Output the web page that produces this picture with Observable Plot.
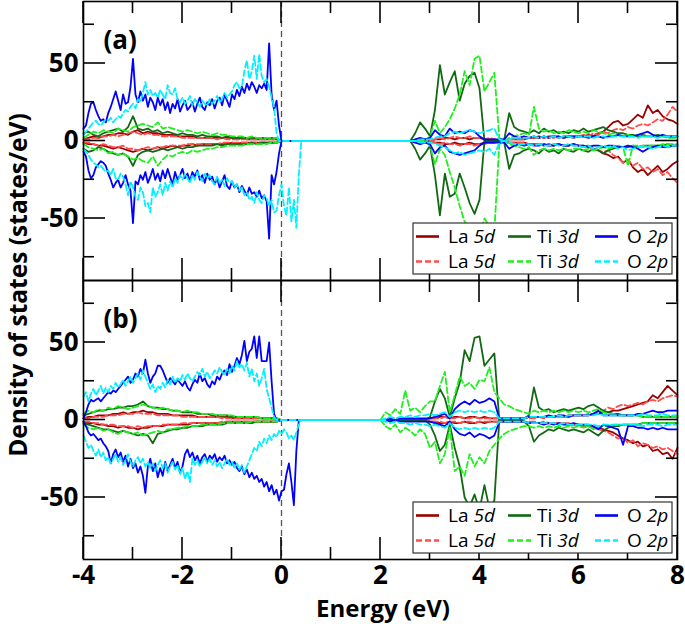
<!DOCTYPE html>
<html><head><meta charset="utf-8">
<script src="https://cdn.jsdelivr.net/npm/d3@7"></script>
<script src="https://cdn.jsdelivr.net/npm/@observablehq/plot@0.6"></script>
<style>body{margin:0;background:#fff;} svg{display:block;}</style>
</head><body><div id="chart"></div>
<script>
// ---- sample energies (eV) ----
const EV05 = d3.range(0, 89).map(i => +(-4 + 0.05 * i).toFixed(2)); // -4.00 .. 0.40
const EV10 = d3.range(0, 41).map(i => +(-4 + 0.1 * i).toFixed(1));  // -4.0 .. 0.0
const EC10 = d3.range(0, 61).map(i => +(2 + 0.1 * i).toFixed(1));   //  2.0 .. 8.0

const xTickValues = [-4, -2, 0, 2, 4, 6, 8];
const yTickValues = [-50, 0, 50];
const panels = ["a", "b"];

// ===== Panel (a) =====
// valence, La / Ti on EV10
const a_La_s_up_v = [1,2,3,2,3,4,4,5,5,4, 6,7,5,6,5,5,4,4,4,3, 3,3,3,2,2,2,2,2,2,2, 2,1,2,1,1,1,1,1,1,1, 0];
const a_La_s_dn_v = [-1,-2,-2,-3,-3,-4,-5,-4,-5,-6, -7,-6,-5,-6,-5,-4,-5,-4,-3,-4, -3,-3,-2,-3,-2,-2,-2,-2,-2,-2, -1,-2,-1,-1,-1,-1,-1,-1,-1,-1, 0];
const a_La_d_up_v = [1,1,2,2,3,3,4,3,4,5, 6,5,4,5,4,4,3,3,3,3, 2,2,2,2,2,2,2,1,2,1, 1,1,1,1,1,1,1,1,1,1, 0];
const a_La_d_dn_v = [-1,-1,-2,-3,-2,-3,-4,-4,-3,-5, -5,-6,-5,-4,-5,-4,-4,-3,-3,-3, -3,-2,-2,-2,-2,-2,-2,-2,-1,-1, -1,-1,-1,-1,-1,-1,-1,-1,-1,-1, 0];
const a_Ti_s_up_v = [5,6,4,3,5,6,7,8,6,9, 16,8,7,8,6,7,5,6,5,4, 5,4,4,3,4,3,3,3,2,3, 2,2,2,2,2,2,2,2,2,2, 0];
const a_Ti_s_dn_v = [-5,-7,-6,-4,-5,-7,-8,-9,-8,-10, -16,-9,-7,-6,-7,-6,-5,-6,-5,-4, -5,-4,-4,-3,-3,-3,-3,-2,-3,-2, -2,-2,-2,-2,-1,-2,-1,-1,-1,-1, 0];
const a_Ti_d_up_v = [2,4,6,5,7,6,5,8,7,6, 9,10,11,10,9,12,8,9,8,7, 6,7,6,5,6,5,4,5,4,4, 3,3,3,2,3,2,2,2,2,2, 0];
const a_Ti_d_dn_v = [-2,-4,-5,-6,-5,-8,-7,-9,-8,-10, -12,-11,-13,-14,-10,-16,-12,-9,-10,-8, -7,-8,-6,-7,-6,-5,-5,-4,-4,-3, -3,-3,-3,-2,-2,-2,-2,-2,-1,-1, 0];
// valence, O on EV05
const a_O_s_up_v = [8,10,18,24,25,20,16,13,14,12, 18,22,27,32,26,20,30,24,25,35, 53,30,25,32,26,30,22,28,25,20, 28,23,27,20,25,18,24,21,27,19, 23,26,20,22,25,19,24,28,22,20, 25,23,27,21,26,28,23,30,26,22, 30,27,33,29,35,31,37,33,38,35, 31,36,34,37,33,63,30,20,26,10, 0,0,0,0,0,0,0,0,0];
const a_O_s_dn_v = [-7,-10,-19,-24,-22,-17,-15,-13,-14,-16, -21,-25,-30,-27,-25,-30,-27,-22,-28,-32, -53,-26,-28,-22,-25,-20,-27,-23,-18,-25, -21,-26,-19,-24,-18,-23,-28,-20,-25,-22, -18,-24,-21,-26,-20,-23,-19,-25,-22,-27, -21,-25,-23,-28,-24,-30,-26,-22,-29,-31, -26,-30,-28,-33,-29,-32,-35,-30,-34,-33, -36,-32,-37,-35,-39,-63,-22,-28,-20,-8, 0,0,0,0,0,0,0,0,0];
const a_O_d_up_v = [4,6,8,10,12,13,11,10,12,14, 13,15,12,14,16,15,18,20,19,22, 24,21,27,25,31,38,30,33,29,31, 28,33,30,27,36,31,30,34,27,25, 28,24,26,29,23,27,25,22,26,24, 23,27,24,26,29,25,27,31,28,30, 32,36,38,34,35,45,52,40,45,55, 40,56,42,38,40,35,28,22,5,0, 0,0,0,0,0,0,0,0,0];
const a_O_d_dn_v = [-5,-7,-9,-12,-14,-15,-17,-16,-18,-20, -19,-22,-18,-24,-25,-21,-23,-28,-35,-26, -30,-36,-38,-30,-33,-42,-40,-46,-30,-36, -33,-28,-35,-27,-32,-26,-30,-24,-27,-22, -25,-21,-24,-27,-22,-25,-20,-23,-26,-21, -24,-22,-26,-28,-23,-27,-25,-29,-24,-27, -26,-30,-28,-32,-30,-35,-33,-38,-36,-40, -33,-38,-40,-35,-37,-42,-38,-46,-45,-35, -28,-42,-48,-30,-52,-38,-56,-22,0];
// conduction, EC10
const a_La_s_up_c = [0,0,0,0,0,0,0,0,0,0, 0,1,1,2,2,1,2,2,1,2, 2,1,1,1,0,0,1,1,1,1, 2,2,3,2,3,3,2,3,3,2, 3,3,4,3,5,6,9,12,13,10, 11,14,17,15,23,18,20,16,14,13, 11];
const a_La_s_dn_c = [0,0,0,0,0,0,0,0,0,0, 0,-1,-1,-2,-2,-1,-2,-2,-1,-2, -2,-1,-1,-1,0,0,-1,-1,-1,-1, -2,-2,-2,-3,-2,-3,-2,-3,-3,-2, -3,-4,-3,-5,-6,-8,-9,-11,-10,-14, -12,-17,-20,-18,-22,-19,-16,-20,-18,-15, -13];
const a_La_d_up_c = [0,0,0,0,0,0,0,0,0,0, 0,1,2,1,2,3,2,2,3,2, 2,1,2,1,0,0,1,1,1,1, 2,2,2,3,2,2,3,2,3,3, 3,4,3,5,4,6,5,7,8,7, 9,8,10,11,10,12,14,13,17,22, 19];
const a_La_d_dn_c = [0,0,0,0,0,0,0,0,0,0, 0,-1,-2,-1,-2,-2,-3,-2,-2,-3, -2,-2,-1,-1,0,0,-1,-1,-1,-1, -2,-2,-2,-2,-3,-2,-2,-3,-2,-3, -3,-3,-4,-5,-6,-7,-6,-9,-11,-14, -12,-16,-14,-18,-17,-20,-18,-22,-20,-24, -27];
const a_Ti_s_up_c = [0,0,0,0,0,0,0,5,12,8, 3,20,49,30,38,45,26,37,42,44, 34,0,0,0,0,1,18,9,7,6, 5,7,5,8,6,7,5,6,5,7, 6,8,6,7,8,9,7,6,5,5, 4,4,3,4,3,3,4,3,3,3, 3];
const a_Ti_s_dn_c = [0,0,0,0,0,0,0,-5,-12,-8, -3,-22,-48,-21,-36,-34,-21,-30,-40,-47, -38,0,0,0,0,-1,-18,-9,-8,-6, -5,-6,-8,-5,-7,-6,-8,-5,-6,-7, -5,-6,-7,-5,-6,-8,-6,-5,-4,-4, -4,-3,-4,-3,-3,-3,-3,-3,-2,-3, -3];
const a_Ti_d_up_c = [0,0,0,0,0,0,0,0,0,0, 3,13,5,9,14,21,30,45,36,53, 55,32,38,44,2,0,2,3,4,5, 4,22,8,6,7,5,6,5,7,6, 5,6,5,7,6,5,4,5,4,3, 4,3,4,3,3,4,3,3,2,2, 2];
const a_Ti_d_dn_c = [0,0,0,0,0,0,0,0,0,0, -3,-15,-5,-9,-20,-30,-42,-52,-56,-58, -60,-50,-55,-58,-2,0,-2,-3,-4,-5, -4,-9,-6,-5,-6,-5,-6,-5,-6,-5, -5,-6,-5,-6,-5,-4,-5,-4,-3,-4, -16,-3,-3,-4,-3,-3,-3,-2,-2,-2, -2];
const a_O_s_up_c = [0,0,0,0,0,0,0,1,2,1, 2,7,4,3,8,5,6,5,7,6, 3,1,1,1,1,1,5,3,2,3, 2,3,2,3,2,3,3,2,3,3, 3,3,2,3,3,2,3,3,4,3, 3,3,4,5,6,4,3,4,3,3, 3];
const a_O_s_dn_c = [0,0,0,0,0,0,0,-1,-2,-1, -2,-8,-4,-3,-7,-8,-9,-8,-7,-6, -3,-1,-1,-1,-1,-1,-5,-3,-2,-3, -2,-3,-3,-2,-3,-3,-2,-3,-3,-2, -3,-3,-4,-3,-3,-4,-3,-3,-4,-4, -3,-4,-5,-7,-5,-4,-3,-4,-4,-3, -3];
const a_O_d_up_c = [0,0,0,0,0,0,0,0,1,1, 1,2,3,3,5,6,5,6,7,6, 5,6,7,8,1,0,1,2,2,2, 2,3,2,3,2,3,2,3,3,2, 3,3,3,2,3,3,2,3,3,3, 3,3,2,3,3,3,2,3,3,3, 3];
const a_O_d_dn_c = [0,0,0,0,0,0,0,0,-1,-1, -1,-2,-3,-4,-6,-8,-7,-9,-8,-7, -6,-7,-5,-9,-1,0,-1,-2,-2,-2, -2,-3,-2,-3,-3,-2,-3,-3,-2,-3, -3,-4,-3,-5,-4,-3,-4,-3,-5,-4, -6,-5,-4,-3,-4,-5,-4,-3,-4,-3, -3];

// ===== Panel (b) =====
const b_La_s_up_v = [1,2,2,3,3,3,4,4,5,4, 5,5,6,5,5,4,4,4,3,3, 3,3,3,2,2,2,2,2,2,2, 1,1,1,1,1,1,1,1,1,1, 0];
const b_La_s_dn_v = [-1,-2,-2,-3,-3,-4,-4,-5,-4,-5, -5,-6,-5,-5,-4,-4,-4,-3,-3,-3, -3,-3,-2,-2,-2,-2,-2,-2,-2,-1, -1,-1,-1,-1,-1,-1,-1,-1,-1,-1, 0];
const b_La_d_up_v = [1,1,2,2,2,3,3,3,4,4, 4,5,4,4,4,3,3,3,3,3, 2,2,2,2,2,2,2,2,1,1, 1,1,1,1,1,1,1,1,1,1, 0];
const b_La_d_dn_v = [-1,-1,-2,-2,-3,-3,-3,-4,-4,-4, -5,-4,-5,-4,-4,-4,-3,-3,-3,-3, -2,-2,-2,-2,-2,-2,-2,-2,-1,-1, -1,-1,-1,-1,-1,-1,-1,-1,-1,-1, 0];
const b_Ti_s_up_v = [3,4,5,6,6,7,7,8,8,9, 9,10,12,9,8,8,7,7,6,6, 5,5,5,4,4,4,3,3,3,3, 2,2,2,2,2,2,1,1,1,1, 0];
const b_Ti_s_dn_v = [-2,-3,-4,-5,-6,-6,-7,-8,-7,-8, -9,-10,-9,-10,-15,-9,-8,-7,-6,-6, -5,-5,-4,-4,-4,-3,-3,-3,-3,-2, -2,-2,-2,-2,-2,-1,-1,-1,-1,-1, 0];
const b_Ti_d_up_v = [4,6,5,7,6,8,7,9,8,7, 8,9,10,9,8,7,8,7,6,6, 5,6,5,5,4,4,4,3,3,3, 3,2,2,2,2,2,1,1,1,1, 0];
const b_Ti_d_dn_v = [-3,-5,-6,-5,-7,-6,-8,-9,-7,-8, -9,-8,-10,-9,-8,-7,-8,-6,-6,-5, -5,-4,-4,-4,-3,-3,-3,-3,-2,-2, -2,-2,-2,-2,-1,-1,-1,-1,-1,-1, 0];
const b_O_s_up_v = [1,5,10,13,12,13,14,12,14,16, 18,17,19,18,20,22,24,26,28,24, 26,30,28,33,30,39,30,24,28,30, 35,35,32,28,24,27,25,23,26,24, 22,25,21,19,23,26,24,30,25,27, 23,21,25,23,28,26,30,32,29,36, 31,35,40,36,42,51,38,44,46,54, 40,54,38,38,38,50,25,4,0,0, 0,0,0,0,0,0,0,0,0];
const b_O_s_dn_v = [-1,-4,-8,-10,-9,-11,-13,-12,-15,-17, -20,-28,-22,-19,-24,-21,-27,-23,-30,-25, -31,-28,-34,-30,-36,-47,-30,-25,-33,-28, -37,-31,-36,-27,-33,-29,-25,-31,-27,-34, -30,-22,-19,-24,-21,-26,-23,-28,-24,-22, -27,-23,-25,-22,-27,-24,-26,-23,-28,-26, -29,-27,-31,-33,-30,-35,-32,-37,-34,-38, -36,-40,-38,-43,-40,-46,-42,-48,-45,-52, -46,-45,-35,-28,-40,-55,-20,0,0];
const b_O_d_up_v = [15,18,12,17,20,16,19,22,17,21, 18,22,20,24,21,23,26,22,25,28, 24,27,30,26,32,28,24,20,23,18, 22,20,24,21,26,23,28,24,27,25, 29,26,30,27,25,28,31,29,33,28, 31,27,29,32,30,34,31,29,33,30, 35,32,38,34,36,32,37,28,33,25, 30,22,27,33,20,14,8,2,0,0, 0,0,0,0,0,0,0,0,0];
const b_O_d_dn_v = [-10,-14,-18,-16,-20,-23,-19,-24,-21,-26, -24,-28,-25,-22,-27,-24,-29,-26,-22,-27, -30,-26,-24,-28,-25,-30,-27,-31,-28,-33, -29,-26,-31,-28,-34,-30,-27,-32,-29,-35, -31,-38,-33,-40,-25,-29,-26,-30,-27,-24, -28,-25,-29,-26,-30,-27,-31,-28,-25,-29, -27,-31,-28,-32,-29,-34,-30,-26,-22,-18, -20,-14,-17,-12,-15,-10,-13,-9,-11,-7, -9,-6,-8,-12,-10,-13,-8,-3,0];
const b_La_s_up_c = [0,0,0,0,0,0,0,0,0,0, 1,1,2,2,1,2,2,1,2,2, 1,2,1,1,1,1,1,1,1,1, 2,2,2,2,2,2,3,2,3,3, 3,3,3,4,4,5,5,6,6,7, 8,9,10,11,12,16,14,18,22,19, 16];
const b_La_s_dn_c = [0,0,0,0,0,0,0,0,0,0, -1,-1,-2,-2,-1,-2,-2,-1,-2,-2, -1,-2,-1,-1,-1,-1,-1,-1,-1,-1, -2,-2,-2,-2,-2,-2,-3,-2,-3,-3, -3,-4,-4,-5,-5,-6,-7,-8,-10,-12, -13,-15,-14,-17,-16,-20,-19,-22,-21,-25, -18];
const b_La_d_up_c = [0,0,0,0,0,0,0,0,0,0, 1,1,1,2,1,1,2,1,1,2, 1,1,1,1,1,1,1,1,1,1, 1,1,2,1,2,2,2,2,2,3, 3,3,4,4,5,6,8,7,9,10, 9,10,11,10,12,13,12,14,15,16, 15];
const b_La_d_dn_c = [0,0,0,0,0,0,0,0,0,0, -1,-1,-1,-2,-1,-1,-2,-1,-1,-2, -1,-1,-1,-1,-1,-1,-1,-1,-1,-1, -1,-1,-2,-1,-2,-2,-2,-2,-2,-3, -3,-4,-4,-5,-6,-7,-8,-10,-12,-11, -15,-13,-17,-15,-16,-18,-17,-19,-18,-20, -22];
const b_Ti_s_up_c = [0,0,0,0,0,0,0,0,0,0, 2,12,20,14,2,14,24,45,38,53, 54,35,39,43,0,0,0,0,0,1, 3,21,8,6,7,5,6,7,6,7, 8,7,9,10,8,6,5,4,4,3, 3,3,3,2,2,2,2,2,2,2, 2];
const b_Ti_s_dn_c = [0,0,0,0,0,0,0,0,0,0, -3,-10,-20,-16,-3,-18,-30,-50,-56,-48, -58,-42,-57,-52,0,0,0,0,0,-1, -4,-14,-10,-8,-6,-7,-5,-6,-7,-6, -7,-8,-6,-8,-10,-7,-5,-4,-4,-3, -3,-3,-3,-2,-2,-2,-2,-2,-2,-2, -2];
const b_Ti_d_up_c = [0,5,3,7,4,19,6,8,5,9, 12,12,22,31,5,16,28,22,24,20, 26,25,34,18,14,10,9,7,6,5, 4,6,5,6,5,6,5,6,5,6, 5,6,5,6,7,5,4,4,3,3, 3,3,3,2,2,2,2,2,2,2, 2];
const b_Ti_d_dn_c = [0,-4,-6,-3,-8,-5,-7,-10,-6,-9, -18,-14,-28,-22,-5,-33,-30,-36,-22,-30, -24,-28,-20,-16,-12,-9,-7,-6,-5,-4, -4,-5,-4,-5,-4,-5,-4,-5,-4,-5, -4,-5,-4,-6,-5,-4,-4,-3,-3,-3, -3,-3,-3,-2,-2,-2,-2,-2,-2,-2, -2];
const b_O_s_up_c = [0,0,1,0,1,1,1,1,1,1, 1,2,3,4,1,7,10,12,10,13, 11,12,14,12,1,1,1,1,1,1, 2,2,2,2,3,2,3,3,2,3, 3,3,3,4,6,3,3,3,3,3, 3,3,4,4,5,6,5,5,6,6, 6];
const b_O_s_dn_c = [0,0,-1,0,-1,-1,-1,-1,-1,-1, -1,-2,-3,-4,-1,-6,-9,-10,-8,-11, -9,-10,-12,-10,-1,-1,-1,-1,-1,-1, -2,-2,-2,-3,-2,-3,-2,-3,-3,-2, -3,-3,-3,-4,-6,-3,-4,-5,-6,-16, -4,-4,-5,-5,-6,-5,-6,-5,-6,-6, -6];
const b_O_d_up_c = [0,1,2,1,2,2,3,2,3,3, 4,3,4,5,2,5,6,5,6,5, 6,5,6,5,1,1,1,1,1,1, 2,2,2,2,2,2,3,2,3,3, 3,3,3,3,4,3,3,3,3,3, 3,3,3,4,3,3,3,4,3,3, 3];
const b_O_d_dn_c = [0,-1,-2,-1,-2,-2,-3,-2,-3,-3, -4,-3,-4,-5,-2,-5,-6,-5,-6,-5, -6,-5,-6,-5,-1,-1,-1,-1,-1,-1, -2,-2,-2,-2,-2,-2,-3,-2,-3,-3, -3,-3,-3,-3,-4,-3,-3,-3,-3,-3, -3,-3,-3,-4,-3,-3,-3,-4,-3,-3, -3];

// ---- table of series ----
const seriesTable = [
  ["a","La","s","up",a_La_s_up_v,a_La_s_up_c], ["a","La","s","dn",a_La_s_dn_v,a_La_s_dn_c],
  ["a","La","d","up",a_La_d_up_v,a_La_d_up_c], ["a","La","d","dn",a_La_d_dn_v,a_La_d_dn_c],
  ["a","Ti","s","up",a_Ti_s_up_v,a_Ti_s_up_c], ["a","Ti","s","dn",a_Ti_s_dn_v,a_Ti_s_dn_c],
  ["a","Ti","d","up",a_Ti_d_up_v,a_Ti_d_up_c], ["a","Ti","d","dn",a_Ti_d_dn_v,a_Ti_d_dn_c],
  ["a","O","s","up",a_O_s_up_v,a_O_s_up_c], ["a","O","s","dn",a_O_s_dn_v,a_O_s_dn_c],
  ["a","O","d","up",a_O_d_up_v,a_O_d_up_c], ["a","O","d","dn",a_O_d_dn_v,a_O_d_dn_c],
  ["b","La","s","up",b_La_s_up_v,b_La_s_up_c], ["b","La","s","dn",b_La_s_dn_v,b_La_s_dn_c],
  ["b","La","d","up",b_La_d_up_v,b_La_d_up_c], ["b","La","d","dn",b_La_d_dn_v,b_La_d_dn_c],
  ["b","Ti","s","up",b_Ti_s_up_v,b_Ti_s_up_c], ["b","Ti","s","dn",b_Ti_s_dn_v,b_Ti_s_dn_c],
  ["b","Ti","d","up",b_Ti_d_up_v,b_Ti_d_up_c], ["b","Ti","d","dn",b_Ti_d_dn_v,b_Ti_d_dn_c],
  ["b","O","s","up",b_O_s_up_v,b_O_s_up_c], ["b","O","s","dn",b_O_s_dn_v,b_O_s_dn_c],
  ["b","O","d","up",b_O_d_up_v,b_O_d_up_c], ["b","O","d","dn",b_O_d_dn_v,b_O_d_dn_c]
];

const rows = [];
for (const [panel, el, st, spin, vv, cv] of seriesTable) {
  const gv = el === "O" ? EV05 : EV10;
  const key = `${panel}-${el}-${st}-${spin}`;
  const nv = Math.min(gv.length, vv.length), nc = Math.min(EC10.length, cv.length);
  for (let i = 0; i < nv; i++) rows.push({panel, el, st, key, E: gv[i], v: vv[i]});
  for (let i = 0; i < nc; i++) rows.push({panel, el, st, key, E: EC10[i], v: cv[i]});
}
// zero-DOS gap of each panel (all curves coincide at zero there)
for (const p of panels) {
  const nz = rows.filter(r => r.panel === p && r.v !== 0);
  const lo = d3.max(nz.filter(r => r.E < 1), r => r.E);
  const hi = d3.min(nz.filter(r => r.E > 1), r => r.E);
  rows.push({panel: p, el: "gap", st: "s", key: `${p}-gap`, E: lo, v: 0});
  rows.push({panel: p, el: "gap", st: "s", key: `${p}-gap`, E: hi, v: 0});
}
for (const p of panels) rows.find(r => r.panel === p).label = `(${p})`;

const styles = [
  {el: "La", st: "s", color: "#990000", dash: null,  name: "La ", orb: "5d"},
  {el: "La", st: "d", color: "#ff4d4d", dash: "6,3", name: "La ", orb: "5d"},
  {el: "Ti", st: "s", color: "#126812", dash: null,  name: "Ti ", orb: "3d"},
  {el: "Ti", st: "d", color: "#1ef01e", dash: "6,3", name: "Ti ", orb: "3d"},
  {el: "O",  st: "s", color: "#0000ff", dash: null,  name: "O ",  orb: "2p"},
  {el: "O",  st: "d", color: "#00f0ff", dash: "6,3", name: "O ",  orb: "2p"}
];

const FONT = "'Open Sans', 'DejaVu Sans', sans-serif";

const plot = Plot.plot({
  width: 685, height: 624,
  marginLeft: 83, marginRight: 8, marginTop: 1, marginBottom: 65,
  style: {fontFamily: FONT, fontSize: "26px", fontWeight: "bold", background: "white", color: "black"},
  facet: {data: rows, y: "panel"},
  fy: {domain: panels, padding: 0, axis: null, label: null},
  x: {domain: [-4, 8], ticks: xTickValues, tickSize: 0, tickPadding: 6, tickFormat: d => String(d), label: null},
  y: {domain: [-90, 90], ticks: yTickValues, tickSize: 0, tickPadding: 5, tickFormat: d => String(d), label: null},
  marks: [
    Plot.ruleX([0], {stroke: "#555", strokeWidth: 1.3, strokeDasharray: "6,4"}),
    ...styles.map(s => Plot.line(rows, {
      filter: d => d.el === s.el && d.st === s.st,
      x: "E", y: "v", z: "key",
      stroke: s.color, strokeWidth: 1.8,
      strokeDasharray: s.dash || undefined
    })),
    Plot.line(rows, {filter: d => d.el === "gap", x: "E", y: "v", z: "key", stroke: "#00f0ff", strokeWidth: 1.8}),
    Plot.frame({stroke: "black", strokeWidth: 1.6}),
    Plot.text(rows, {filter: d => d.label, text: "label", frameAnchor: "top-left", dx: 20, dy: 29,
      fontSize: 26, fontWeight: "bold", textAnchor: "start", fill: "black"})
  ]
});
document.getElementById("chart").appendChild(plot);

// ---- inward ticks, legends and axis titles drawn with the plot's scales ----
const svg = d3.select(plot);
const X = plot.scale("x"), Y = plot.scale("y"), FY = plot.scale("fy");
const bw = FY.bandwidth;
const yMin = Math.min(...Y.range), ySpan = Math.abs(Y.range[1] - Y.range[0]);
const yPix = (p, v) => FY.apply(p) + (Y.apply(v) - yMin) * bw / ySpan;
const left = Math.min(...X.range), right = Math.max(...X.range);
const tickG = svg.append("g").attr("stroke", "black").attr("stroke-width", 1.6);
const minorX = [-3, -1, 1, 3, 5, 7];
const minorY = [-75, -25, 25, 75];
for (const p of panels) {
  const top = FY.apply(p), bottom = top + bw;
  for (const t of [...xTickValues.map(t => [t, 22]), ...minorX.map(t => [t, 12])]) {
    const x = X.apply(t[0]);
    tickG.append("line").attr("x1", x).attr("x2", x).attr("y1", top).attr("y2", top + t[1]);
    tickG.append("line").attr("x1", x).attr("x2", x).attr("y1", bottom).attr("y2", bottom - t[1]);
  }
  for (const t of [...yTickValues.map(t => [t, 22]), ...minorY.map(t => [t, 11])]) {
    const y = yPix(p, t[0]);
    tickG.append("line").attr("x1", left).attr("x2", left + t[1]).attr("y1", y).attr("y2", y);
    tickG.append("line").attr("x1", right).attr("x2", right - t[1]).attr("y1", y).attr("y2", y);
  }
  // legend
  const lg = svg.append("g").attr("transform", `translate(${right - 264},${bottom - 57})`)
    .attr("font-family", FONT).attr("font-size", 19).attr("font-weight", "normal").attr("text-anchor", "start");
  lg.append("rect").attr("width", 259).attr("height", 51).attr("fill", "white").attr("stroke", "#333").attr("stroke-width", 1.2);
  const colLine = {La: 3, Ti: 95, O: 182}, colText = {La: 35, Ti: 124, O: 214};
  for (const s of styles) {
    const yy = s.st === "s" ? 13.5 : 38.5;
    lg.append("line").attr("x1", colLine[s.el]).attr("x2", colLine[s.el] + 23).attr("y1", yy).attr("y2", yy)
      .attr("stroke", s.color).attr("stroke-width", 2.6).attr("stroke-dasharray", s.dash);
    const t = lg.append("text").attr("x", colText[s.el]).attr("y", yy).attr("dy", "0.36em")
      .attr("fill", "black").attr("text-anchor", "start");
    t.append("tspan").text(s.name);
    t.append("tspan").attr("font-style", "italic").text(s.orb);
  }
}
svg.append("text").attr("transform", `translate(27,${(FY.apply("a") + FY.apply("b") + bw) / 2 + 5}) rotate(-90)`)
  .attr("text-anchor", "middle").attr("font-family", FONT).attr("font-size", 24.5).attr("font-weight", "bold")
  .text("Density of states (states/eV)");
svg.append("text").attr("x", (left + right) / 2 + 3).attr("y", 616.8)
  .attr("text-anchor", "middle").attr("font-family", FONT).attr("font-size", 24).attr("font-weight", "bold")
  .text("Energy (eV)");
</script>
</body></html>
